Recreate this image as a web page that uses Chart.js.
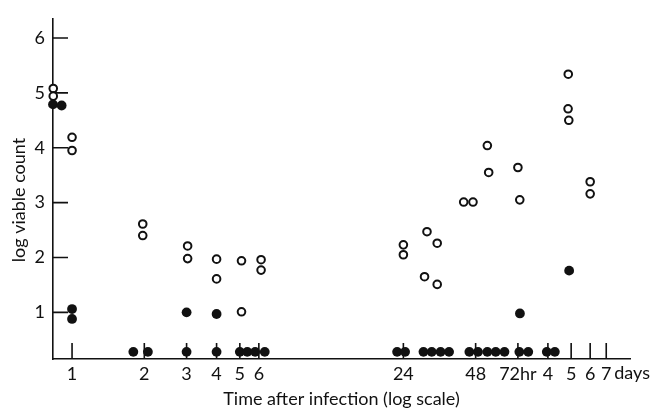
<!DOCTYPE html>
<html lang="en">
<head>
<meta charset="UTF-8">
<title>Viable count after infection</title>
<style>
  body { margin: 0; background: #fff; }
  .chart-box { width: 658px; height: 410px; }
</style>
<script src="https://cdn.jsdelivr.net/npm/chart.js"></script>
</head>
<body>
<div class="chart-box"><canvas id="chart"></canvas></div>
<script>
// hours after infection; the first points sit on the y axis (start of experiment)
const openHours = [0.835, 0.835, 1, 1, 1.97, 1.97, 3.03, 3.03, 4, 4, 5.08, 5.08, 6.13, 6.13,
  24, 24, 30.1, 33.2, 29.4, 33.2, 42.8, 46.8, 53.7, 54.4, 72, 73.3, 116.7, 116.5, 117.3, 144, 144];
const openLogCount = [5.08, 4.94, 4.19, 3.95, 2.61, 2.40, 2.21, 1.98, 1.97, 1.61, 1.94, 1.01, 1.96, 1.77,
  2.23, 2.05, 2.47, 2.26, 1.65, 1.51, 3.01, 3.01, 4.04, 3.55, 3.64, 3.05, 5.34, 4.71, 4.50, 3.38, 3.16];

const filledHours = [0.833, 0.905, 1, 1, 3, 4, 73.4, 117.7,
  1.8, 2.07, 3, 4, 5, 5.37, 5.79, 6.35,
  22.6, 24.4, 29.1, 31.5, 34.3, 37.2, 45.2, 49.1, 53.7, 58.2, 63.3, 73, 79.5, 95, 102.6];
const filledLogCount = [4.79, 4.77, 1.06, 0.88, 1.0, 0.97, 0.98, 1.76,
  0.28, 0.28, 0.28, 0.28, 0.28, 0.28, 0.28, 0.28,
  0.28, 0.28, 0.28, 0.28, 0.28, 0.28, 0.28, 0.28, 0.28, 0.28, 0.28, 0.28, 0.28, 0.28, 0.28];

const xTickHours = [1, 2, 3, 4, 5, 6, 24, 48, 72, 96, 120, 144, 168];
const xTickLabels = ['1', '2', '3', '4', '5', '6', '24', '48', '72hr', '4', '5', '6', '7'];
const yTickValues = [1, 2, 3, 4, 5, 6];

const ink = '#111';
const FONT = 'Lato, "Open Sans", sans-serif';
const FONT_SIZE = 18;

const toPoints = (xs, ys) => xs.map((x, i) => ({ x: x, y: ys[i] }));

// ticks point inwards on this figure; drawn before the dots so the dots cover them
const figureExtras = {
  id: 'figureExtras',
  beforeDatasetsDraw(chart) {
    const { ctx, chartArea: a, scales: { x, y } } = chart;
    ctx.save();
    ctx.strokeStyle = ink;
    ctx.lineWidth = 1.6;
    ctx.beginPath();
    xTickHours.forEach(v => {
      const px = x.getPixelForValue(v);
      ctx.moveTo(px, a.bottom);
      ctx.lineTo(px, a.bottom - 16);
    });
    yTickValues.forEach(v => {
      const py = y.getPixelForValue(v);
      ctx.moveTo(a.left, py);
      ctx.lineTo(a.left + 15, py);
    });
    ctx.stroke();
    ctx.restore();
  },
  afterDraw(chart) {
    const { ctx, chartArea: a, scales: { x } } = chart;
    ctx.save();
    ctx.fillStyle = ink;
    ctx.font = FONT_SIZE + 'px ' + FONT;
    // "days" follows the last tick label
    ctx.textAlign = 'left';
    ctx.textBaseline = 'top';
    ctx.fillText('days', x.getPixelForValue(168) + 8, a.bottom + 5);
    // y axis title
    ctx.translate(19, 200);
    ctx.rotate(-Math.PI / 2);
    ctx.textAlign = 'center';
    ctx.textBaseline = 'middle';
    ctx.fillText('log viable count', 0, 0);
    ctx.restore();
  }
};

new Chart(document.getElementById('chart'), {
  type: 'scatter',
  data: {
    datasets: [
      {
        label: 'open',
        data: toPoints(openHours, openLogCount),
        pointRadius: 3.8,
        pointBorderWidth: 2,
        pointBorderColor: ink,
        pointBackgroundColor: '#fff',
        clip: false
      },
      {
        label: 'filled',
        data: toPoints(filledHours, filledLogCount),
        pointRadius: 4.9,
        pointBorderWidth: 0,
        pointBorderColor: ink,
        pointBackgroundColor: ink,
        clip: false
      }
    ]
  },
  options: {
    responsive: true,
    maintainAspectRatio: false,
    animation: false,
    layout: { padding: { left: 0, right: 28, top: 15, bottom: 0 } },
    plugins: { legend: { display: false }, tooltip: { enabled: false } },
    scales: {
      x: {
        type: 'logarithmic',
        min: 0.833,
        max: 211,
        afterBuildTicks: s => { s.ticks = xTickHours.map(v => ({ value: v })); },
        afterFit: s => { s.height = 51; },
        grid: { drawOnChartArea: false, drawTicks: false },
        border: { color: ink, width: 1.6 },
        ticks: {
          autoSkip: false, maxRotation: 0, padding: 4, color: ink,
          font: { family: FONT, size: FONT_SIZE },
          callback: v => xTickLabels[xTickHours.indexOf(v)]
        },
        title: {
          display: true, text: 'Time after infection (log scale)', color: ink,
          font: { family: FONT, size: FONT_SIZE }, padding: { top: 0, bottom: 0 }
        }
      },
      y: {
        min: 0.15,
        max: 6.35,
        afterBuildTicks: s => { s.ticks = yTickValues.map(v => ({ value: v })); },
        afterFit: s => { s.width = 53; },
        grid: { drawOnChartArea: false, drawTicks: false },
        border: { color: ink, width: 1.6 },
        ticks: { padding: 8, color: ink, font: { family: FONT, size: FONT_SIZE } }
      }
    }
  },
  plugins: [figureExtras]
});
</script>
</body>
</html>
